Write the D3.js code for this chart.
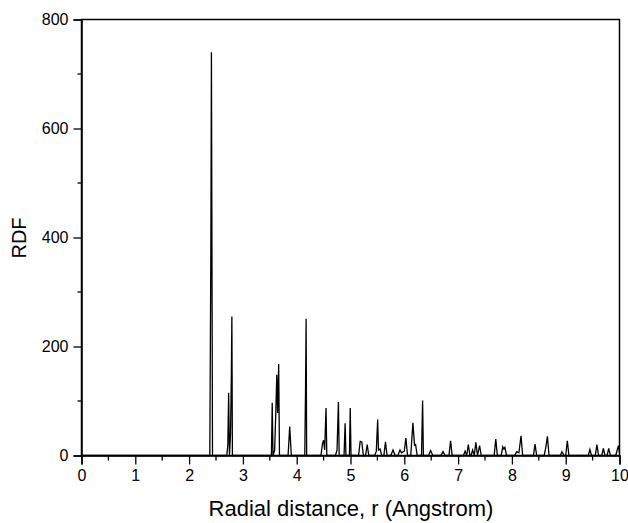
<html>

<head>
    <script src="https://d3js.org/d3.v7.min.js"></script>
    <style>
        body { margin: 0; background: white; }
        text { font-family: Arial, "Liberation Sans", sans-serif; fill: black; }
    </style>
</head>

<body>
    <svg id="chart" width=628 height=523></svg>
    <script>
        // tick values
        let xTicks = [0, 1, 2, 3, 4, 5, 6, 7, 8, 9, 10];
        let xMinor = [0.5, 1.5, 2.5, 3.5, 4.5, 5.5, 6.5, 7.5, 8.5, 9.5];
        let yTicks = [0, 200, 400, 600, 800];
        let yMinor = [100, 300, 500, 700];

        // RDF curve, [r (Angstrom), g(r)]
        let rdfCurve = [
            [0, 0], [2.385, 0], [2.395, 200], [2.405, 395], [2.415, 740], [2.425, 370], [2.435, 0],
            [2.70, 0], [2.72, 20], [2.735, 115], [2.75, 0], [2.77, 40], [2.785, 143], [2.795, 255], [2.805, 0],
            [3.53, 0], [3.545, 97], [3.56, 0], [3.59, 10], [3.61, 74], [3.63, 148], [3.645, 78], [3.665, 168], [3.68, 0],
            [3.84, 0], [3.87, 53], [3.90, 0],
            [4.15, 0], [4.165, 130], [4.175, 251], [4.185, 0],
            [4.45, 0], [4.48, 22], [4.50, 28], [4.52, 10], [4.545, 87], [4.56, 0],
            [4.72, 0], [4.75, 10], [4.775, 98], [4.79, 0],
            [4.88, 0], [4.90, 59], [4.915, 0],
            [4.98, 0], [4.995, 87], [5.01, 0],
            [5.15, 0], [5.18, 26], [5.21, 25], [5.24, 0],
            [5.28, 0], [5.31, 20], [5.34, 0],
            [5.45, 0], [5.48, 8], [5.505, 66], [5.52, 10], [5.55, 12], [5.58, 0],
            [5.62, 0], [5.65, 25], [5.68, 0],
            [5.75, 0], [5.79, 10], [5.83, 0],
            [5.88, 0], [5.92, 10], [5.95, 5], [6.00, 8], [6.03, 32], [6.06, 0],
            [6.12, 0], [6.16, 60], [6.19, 19], [6.21, 20], [6.24, 0],
            [6.32, 0], [6.34, 101], [6.355, 0],
            [6.45, 0], [6.49, 9], [6.53, 0],
            [6.68, 0], [6.72, 7], [6.76, 0],
            [6.83, 0], [6.86, 27], [6.89, 0],
            [7.10, 0], [7.13, 8], [7.16, 0], [7.19, 20], [7.22, 0],
            [7.24, 0], [7.27, 10], [7.30, 0], [7.33, 24], [7.36, 0], [7.40, 18], [7.43, 0],
            [7.67, 0], [7.70, 30], [7.73, 0],
            [7.80, 0], [7.83, 16], [7.85, 12], [7.87, 15], [7.90, 0],
            [8.05, 0], [8.09, 7], [8.13, 5], [8.17, 36], [8.20, 0],
            [8.40, 0], [8.43, 21], [8.46, 0],
            [8.60, 0], [8.63, 15], [8.66, 35], [8.69, 0],
            [8.90, 0], [8.93, 7], [8.97, 0],
            [9.00, 0], [9.03, 27], [9.06, 0],
            [9.42, 0], [9.45, 11], [9.48, 0],
            [9.55, 0], [9.58, 20], [9.61, 0],
            [9.67, 0], [9.70, 13], [9.73, 0],
            [9.77, 0], [9.80, 13], [9.83, 0],
            [9.93, 0], [9.98, 18], [10, 5]
        ];

        let svg = d3.select("#chart");

        let xScale = d3.scaleLinear()
            .domain([0, 10])
            .range([81.5, 619.5]);
        let yScale = d3.scaleLinear()
            .domain([0, 800])
            .range([455.5, 19.5]);

        // frame
        svg.append("rect")
            .attr("x", xScale(0))
            .attr("y", yScale(800))
            .attr("width", xScale(10) - xScale(0))
            .attr("height", yScale(0) - yScale(800))
            .attr("fill", "none")
            .attr("stroke", "black")
            .attr("stroke-width", 1.5);

        // curve
        let line = d3.line()
            .x(d => xScale(d[0]))
            .y(d => yScale(d[1]));

        svg.append("path")
            .datum(rdfCurve)
            .attr("d", line)
            .attr("fill", "none")
            .attr("stroke", "black")
            .attr("stroke-width", 1.3)
            .attr("stroke-linejoin", "miter");

        // x axis
        let xAxis = d3.axisBottom(xScale)
            .tickValues(xTicks)
            .tickSize(9)
            .tickPadding(5)
            .tickFormat(d3.format("d"));
        let gx = svg.append("g")
            .attr("transform", `translate(0,${yScale(0)})`)
            .call(xAxis);

        xMinor.forEach(d => {
            gx.append("line")
                .attr("x1", xScale(d))
                .attr("x2", xScale(d))
                .attr("y1", 0)
                .attr("y2", 5)
                .attr("stroke", "black")
                .attr("stroke-width", 1.3);
        });

        // y axis
        let yAxis = d3.axisLeft(yScale)
            .tickValues(yTicks)
            .tickSize(8)
            .tickPadding(5);
        let gy = svg.append("g")
            .attr("transform", `translate(${xScale(0)},0)`)
            .call(yAxis);

        yMinor.forEach(d => {
            gy.append("line")
                .attr("x1", 0)
                .attr("x2", -4)
                .attr("y1", yScale(d))
                .attr("y2", yScale(d))
                .attr("stroke", "black")
                .attr("stroke-width", 1.3);
        });

        svg.selectAll(".domain").attr("stroke-width", 1.5);
        svg.selectAll(".tick line").attr("stroke-width", 1.3);
        svg.selectAll(".tick text")
            .attr("font-size", "16px")
            .attr("font-family", "Arial, 'Liberation Sans', sans-serif")
            .attr("fill", "#222");

        // axis titles
        svg.append("text")
            .attr("x", 351)
            .attr("y", 516)
            .attr("text-anchor", "middle")
            .attr("font-size", "22px")
            .attr("fill", "#222")
            .text("Radial distance, r (Angstrom)");

        svg.append("text")
            .attr("transform", "translate(26,238) rotate(-90)")
            .attr("text-anchor", "middle")
            .attr("fill", "#222")
            .attr("font-size", "20px")
            .text("RDF");
    </script>
</body>

</html>
